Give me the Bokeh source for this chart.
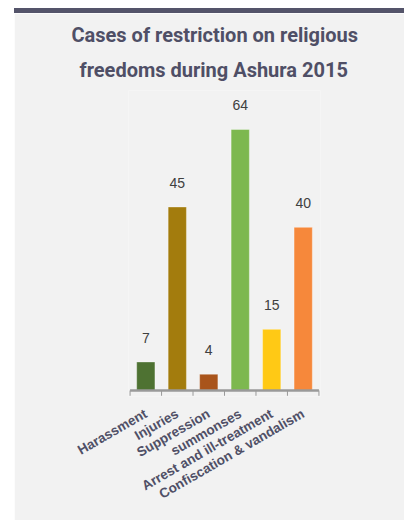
import math
from bokeh.plotting import figure
from bokeh.models import (ColumnDataSource, Title, LinearAxis, Range1d, FixedTicker, Div)
from bokeh.layouts import column
from bokeh.core.properties import value
from bokeh.embed import file_html
from bokeh.resources import INLINE

categories = ["Harassment", "Injuries", "Suppression", "summonses",
              "Arrest and ill-treatment", "Confiscation & vandalism"]
values = [7, 45, 4, 64, 15, 40]
colors = ["#4e7232", "#a37c0d", "#a9541b", "#7db84f", "#ffc915", "#f6883b"]
title_lines = ["Cases of restriction on religious", "freedoms during Ashura 2015"]

BG = "#f2f2f2"
TITLE_FONT = "Roboto"
AXIS_GREY = "#9a9a9a"

n = len(categories)
centers = [i + 0.5 for i in range(n)]
edges = list(range(n + 1))
src = ColumnDataSource(dict(x=centers, val=values, color=colors,
                            label=[str(v) for v in values]))

p = figure(x_range=Range1d(-0.05, n + 0.05), y_range=Range1d(-1.47, 73.56),
           width=390, height=507,
           output_backend="svg", toolbar_location=None,
           x_axis_location=None, y_axis_location=None,
           min_border_left=114, min_border_right=84, min_border_top=77, min_border_bottom=124,
           background_fill_color=BG, border_fill_color=BG, outline_line_color=None,
           margin=0, title=title_lines[0])
p.grid.visible = False

p.title.text_font = TITLE_FONT
p.title.text_font_size = "20px"
p.title.text_font_style = "bold"
p.title.text_color = "#4f4f66"
p.title.align = "left"
p.title.offset = -57
p.title.standoff = 0
p.add_layout(Title(text=title_lines[1], text_font=TITLE_FONT, text_font_size="20px",
                   text_font_style="bold", text_color="#4f4f66", align="left",
                   offset=-49, standoff=18), "above")

p.vbar(x="x", top="val", width=0.58, fill_color="color", line_color="white",
       line_alpha=0.35, line_width=1, source=src)
p.text(x="x", y="val", text="label", source=src, text_align="center",
       text_baseline="bottom", y_offset=-19, text_font=value("Liberation Sans"),
       text_font_size="14px", text_color="#404040")

# baseline and tick marks at the category boundaries
p.segment(x0=[edges[0]], y0=[0], x1=[edges[-1]], y1=[0], line_color=AXIS_GREY, line_width=2.5)
p.segment(x0=edges, y0=[0] * len(edges), x1=edges, y1=[-1.3] * len(edges),
          line_color=AXIS_GREY, line_width=1)

label_axis = LinearAxis(ticker=FixedTicker(ticks=centers),
                        major_label_overrides={c: name for c, name in zip(centers, categories)},
                        axis_line_color=None, major_tick_line_color=None,
                        minor_tick_line_color=None,
                        major_label_orientation=math.pi / 6,
                        major_label_text_font="Liberation Sans",
                        major_label_text_font_size="13.5px",
                        major_label_text_font_style="bold",
                        major_label_text_color="#4f4f66",
                        major_label_standoff=10)
p.add_layout(label_axis, "below")

bar = Div(width=390, height=5, margin=0, styles={"background-color": "#54546a"})
layout = column(bar, p, margin=(8, 0, 0, 14), spacing=0)

open("out.html", "w").write(file_html(layout, INLINE))
